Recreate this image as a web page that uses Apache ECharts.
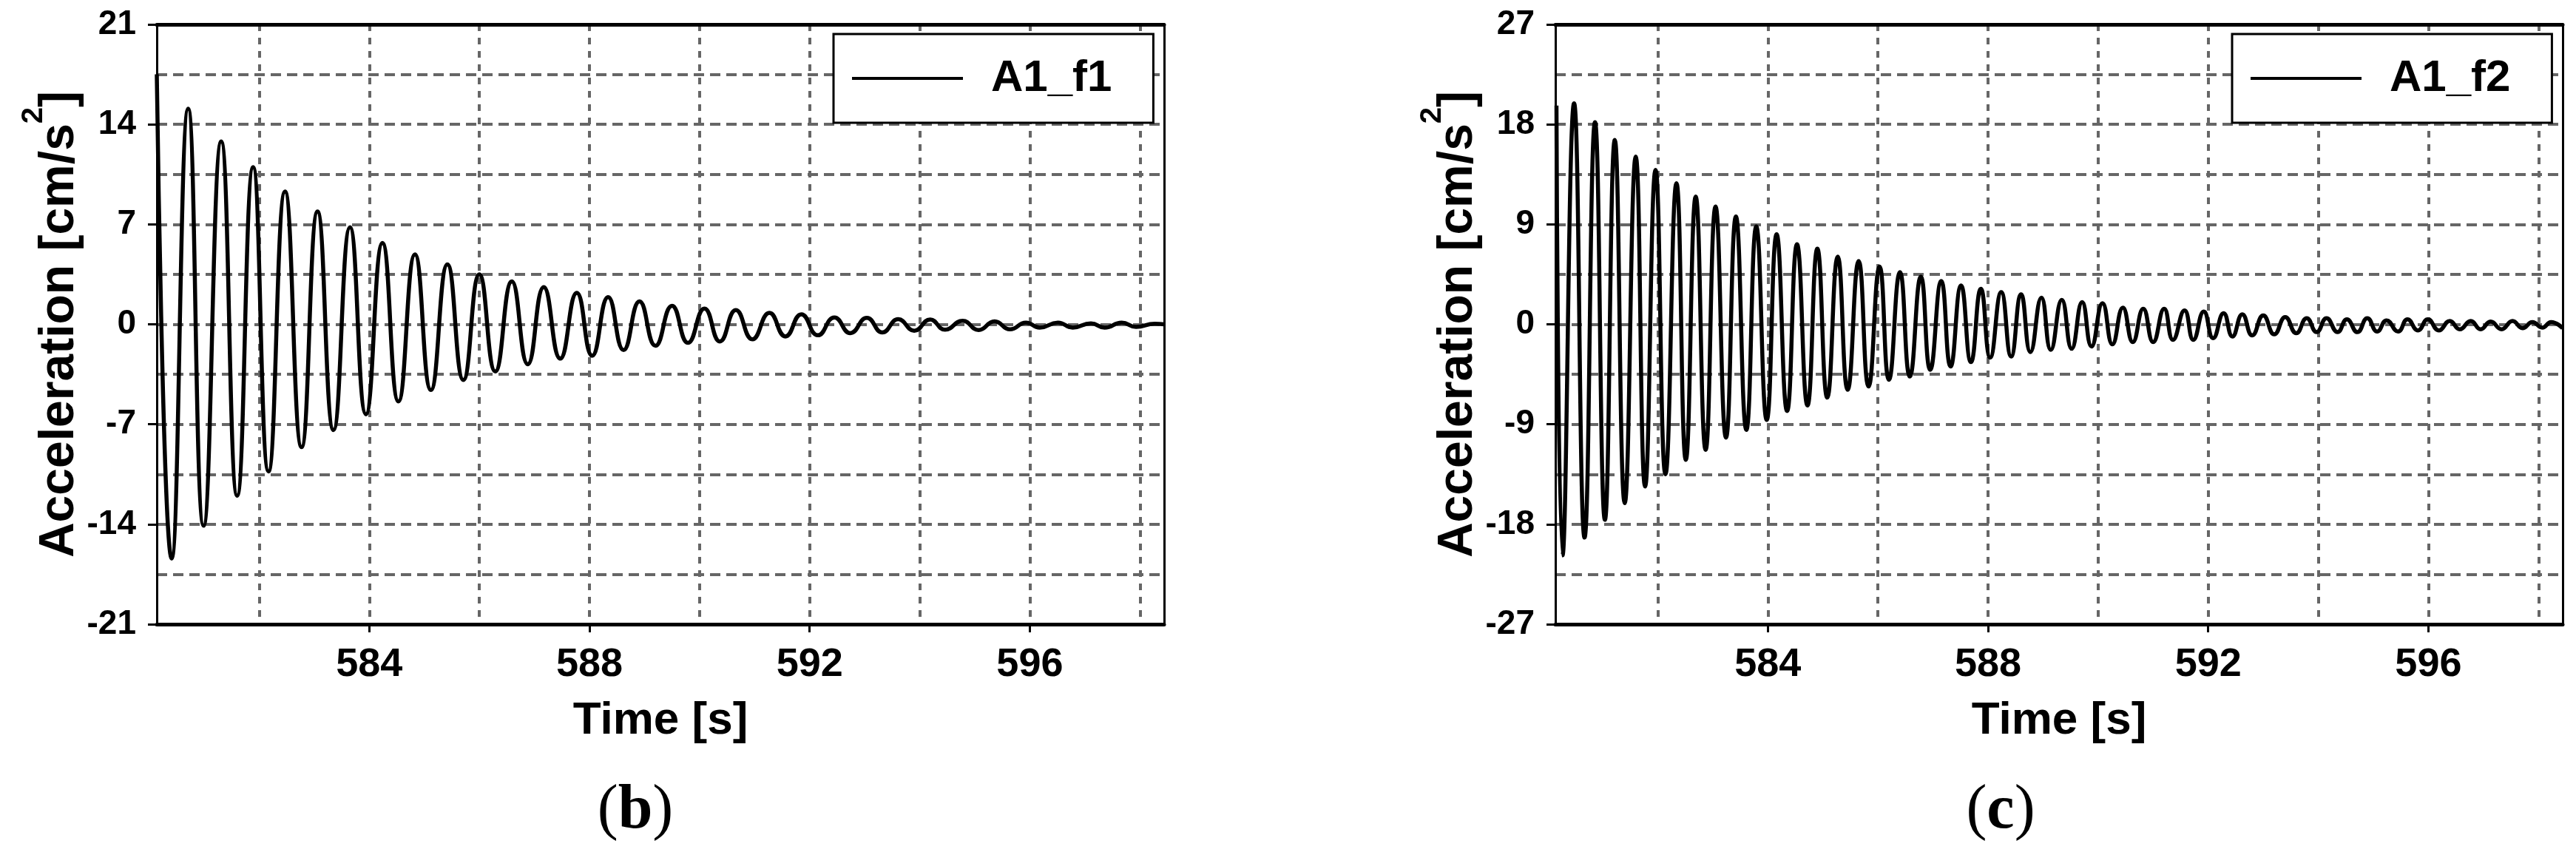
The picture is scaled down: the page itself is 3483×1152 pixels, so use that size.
<!DOCTYPE html>
<html>
<head>
<meta charset="utf-8">
<script src="https://cdn.jsdelivr.net/npm/echarts@6/dist/echarts.min.js"></script>
<style>
  html, body { margin: 0; padding: 0; background: #fff; }
  #chart { width: 3483px; height: 1152px; }
</style>
</head>
<body>
<div id="chart"></div>
<script>
// region data (extrema of the decaying records)
const timeF1 = [
  580.14, 580.41, 580.71, 580.99, 581.31, 581.60, 581.89, 582.17, 582.47, 582.77,
  583.06, 583.35, 583.65, 583.94, 584.24, 584.53, 584.83, 585.12, 585.42, 585.71,
  586.00, 586.29, 586.59, 586.88, 587.17, 587.47, 587.77, 588.05, 588.34, 588.62,
  588.91, 589.20, 589.50, 589.79, 590.09, 590.37, 590.66, 590.96, 591.27, 591.56,
  591.85, 592.15, 592.45, 592.74, 593.04, 593.32, 593.61, 593.90, 594.19, 594.46,
  594.78, 595.07, 595.36, 595.64, 595.93, 596.18, 596.51, 596.78, 597.11, 597.36,
  597.67, 597.93, 598.27, 598.44,
]
const accF1 = [
  17.5, -16.4, 15.1, -14.1, 12.8, -12.0, 11.0, -10.3, 9.3, -8.6,
  7.9, -7.4, 6.8, -6.3, 5.7, -5.4, 4.9, -4.6, 4.2, -3.9,
  3.5, -3.3, 3.0, -2.8, 2.6, -2.4, 2.2, -2.2, 1.9, -1.8,
  1.6, -1.5, 1.3, -1.3, 1.1, -1.2, 1.0, -1.05, 0.8, -0.85,
  0.7, -0.77, 0.48, -0.62, 0.45, -0.57, 0.36, -0.45, 0.34, -0.38,
  0.25, -0.4, 0.21, -0.35, 0.12, -0.23, 0.12, -0.23, 0.07, -0.23,
  0.12, -0.18, 0.04, 0.0,
]
const timeF2 = [
  580.16, 580.27, 580.48, 580.67, 580.86, 581.04, 581.22, 581.40, 581.60, 581.77,
  581.96, 582.14, 582.34, 582.51, 582.69, 582.87, 583.05, 583.24, 583.42, 583.61,
  583.79, 583.98, 584.16, 584.35, 584.53, 584.72, 584.90, 585.08, 585.27, 585.45,
  585.65, 585.83, 586.03, 586.20, 586.40, 586.58, 586.78, 586.95, 587.15, 587.32,
  587.51, 587.69, 587.87, 588.04, 588.24, 588.42, 588.60, 588.77, 588.97, 589.14,
  589.34, 589.52, 589.71, 589.88, 590.08, 590.26, 590.45, 590.63, 590.82, 591.00,
  591.20, 591.36, 591.57, 591.73, 591.92, 592.09, 592.28, 592.44, 592.62, 592.80,
  593.00, 593.20, 593.40, 593.60, 593.79, 593.97, 594.15, 594.35, 594.52, 594.71,
  594.89, 595.07, 595.24, 595.45, 595.62, 595.81, 595.99, 596.19, 596.39, 596.57,
  596.77, 596.95, 597.13, 597.33, 597.53, 597.71, 597.89, 598.07, 598.23, 598.44,
]
const accF2 = [
  19.7, -20.8, 19.9, -19.2, 18.2, -17.6, 16.6, -16.1, 15.1, -14.6,
  13.9, -13.5, 12.7, -12.2, 11.5, -11.3, 10.6, -10.2, 9.7, -9.5,
  8.8, -8.6, 8.1, -7.8, 7.2, -7.3, 6.8, -6.6, 6.1, -5.9,
  5.7, -5.6, 5.2, -5.0, 4.7, -4.7, 4.3, -4.1, 3.9, -3.8,
  3.5, -3.4, 3.2, -3.0, 2.9, -2.9, 2.7, -2.5, 2.4, -2.3,
  2.2, -2.2, 2.0, -2.0, 1.9, -1.8, 1.5, -1.6, 1.4, -1.6,
  1.4, -1.4, 1.25, -1.4, 1.15, -1.25, 1.0, -1.1, 0.9, -1.0,
  0.8, -0.9, 0.65, -0.8, 0.55, -0.7, 0.55, -0.7, 0.45, -0.7,
  0.55, -0.65, 0.35, -0.65, 0.45, -0.55, 0.45, -0.55, 0.3, -0.45,
  0.3, -0.45, 0.25, -0.45, 0.3, -0.35, 0.2, -0.3, 0.2, -0.35,
]
const timeRange = [580.14, 598.44]
const timeLabels = [584, 588, 592, 596]
const timeGrid = [582, 584, 586, 588, 590, 592, 594, 596, 598]
const accRangeF1 = [-21, 21]
const accRangeF2 = [-27, 27]
const seriesNames = ['A1_f1', 'A1_f2']
const panelTags = ['b', 'c']
// endregion

const font = 'Liberation Sans'
const black = '#000'
const gridColor = '#666'

const zip = (xs, ys) => xs.map((x, i) => [x, ys[i]])

const labelXAxis = (gridIndex) => ({
  type: 'value',
  gridIndex,
  min: timeRange[0],
  max: timeRange[1],
  position: 'bottom',
  axisLine: { show: true, onZero: false, lineStyle: { color: black, width: 5 } },
  axisTick: { show: true, length: 11, customValues: timeLabels, lineStyle: { color: black, width: 3 } },
  axisLabel: {
    customValues: timeLabels,
    margin: 28,
    fontSize: 54,
    fontWeight: 'bold',
    fontFamily: font,
    color: black,
  },
  splitLine: { show: false },
  name: 'Time [s]',
  nameLocation: 'middle',
  nameGap: 100,
  nameTextStyle: { fontSize: 62, fontWeight: 'bold', fontFamily: font, color: black },
})
const gridXAxis = (gridIndex) => ({
  type: 'value',
  gridIndex,
  min: timeRange[0],
  max: timeRange[1],
  position: 'top',
  splitNumber: 9,
  axisLine: { show: true, onZero: false, lineStyle: { color: black, width: 5 } },
  axisTick: { show: false, customValues: timeGrid },
  axisLabel: { show: false },
  splitLine: { show: true, lineStyle: { color: gridColor, width: 4, type: [9, 9] } },
})
const labelYAxis = (gridIndex, range) => ({
  type: 'value',
  gridIndex,
  min: range[0],
  max: range[1],
  interval: range[1] / 3,
  position: 'left',
  axisLine: { show: true, onZero: false, lineStyle: { color: black, width: 3 } },
  axisTick: { show: true, length: 12, lineStyle: { color: black, width: 3 } },
  axisLabel: { margin: 28, fontSize: 46, fontWeight: 'bold', fontFamily: font, color: black },
  splitLine: { show: false },
  name: '{a|Acceleration [cm/s}{s|2}{a|]}',
  nameLocation: 'middle',
  nameRotate: 90,
  nameGap: 75,
  nameTextStyle: {
    rich: {
      a: { fontSize: 66, lineHeight: 110, fontWeight: 'bold', fontFamily: font, color: black },
      s: { fontSize: 40, fontWeight: 'bold', fontFamily: font, color: black, verticalAlign: 'top' },
    },
  },
})
const gridYAxis = (gridIndex, range) => ({
  type: 'value',
  gridIndex,
  min: range[0],
  max: range[1],
  interval: range[1] / 6,
  position: 'right',
  axisLine: { show: true, onZero: false, lineStyle: { color: black, width: 3 } },
  axisTick: { show: false },
  axisLabel: { show: false },
  splitLine: { show: true, lineStyle: { color: gridColor, width: 4, type: [14, 8] } },
})
const legendBox = (name, left) => ({
  data: [name],
  left,
  top: 46,
  selectedMode: false,
  icon: 'rect',
  itemWidth: 150,
  itemHeight: 4,
  itemStyle: { color: black, borderWidth: 0 },
  padding: [30, 56, 30, 25],
  borderColor: black,
  borderWidth: 3,
  borderRadius: 0,
  backgroundColor: '#fff',
  textStyle: { fontSize: 60, fontWeight: 'bold', fontFamily: font, color: black, padding: [0, 0, 0, 33] },
})
const panelTag = (tag, x) => ({
  type: 'text',
  x,
  y: 1097,
  style: {
    text: '{p|(}{b|' + tag + '}{p|)}',
    align: 'center',
    verticalAlign: 'middle',
    rich: {
      p: { fontFamily: 'Liberation Serif', fontSize: 84, color: black },
      b: { fontFamily: 'Liberation Serif', fontSize: 84, fontWeight: 'bold', color: black },
    },
  },
})
const lineSeries = (name, index, times, values) => ({
  name,
  type: 'line',
  xAxisIndex: index * 2,
  yAxisIndex: index * 2,
  data: zip(times, values),
  smooth: true,
  symbol: 'none',
  showSymbol: false,
  animation: false,
  lineStyle: { color: black, width: 5.5 },
  itemStyle: { color: black },
  z: 5,
})

const chart = echarts.init(document.getElementById('chart'), null, { renderer: 'canvas' })
chart.setOption({
  animation: false,
  backgroundColor: '#fff',
  grid: [
    { left: 212, top: 33, width: 1362, height: 811 },
    { left: 2103, top: 33, width: 1362, height: 811 },
  ],
  xAxis: [labelXAxis(0), gridXAxis(0), labelXAxis(1), gridXAxis(1)],
  yAxis: [
    labelYAxis(0, accRangeF1), gridYAxis(0, accRangeF1),
    labelYAxis(1, accRangeF2), gridYAxis(1, accRangeF2),
  ],
  legend: [legendBox(seriesNames[0], 1127), legendBox(seriesNames[1], 3018)],
  graphic: [panelTag(panelTags[0], 859), panelTag(panelTags[1], 2705)],
  series: [
    lineSeries(seriesNames[0], 0, timeF1, accF1),
    lineSeries(seriesNames[1], 1, timeF2, accF2),
  ],
})
</script>
</body>
</html>
